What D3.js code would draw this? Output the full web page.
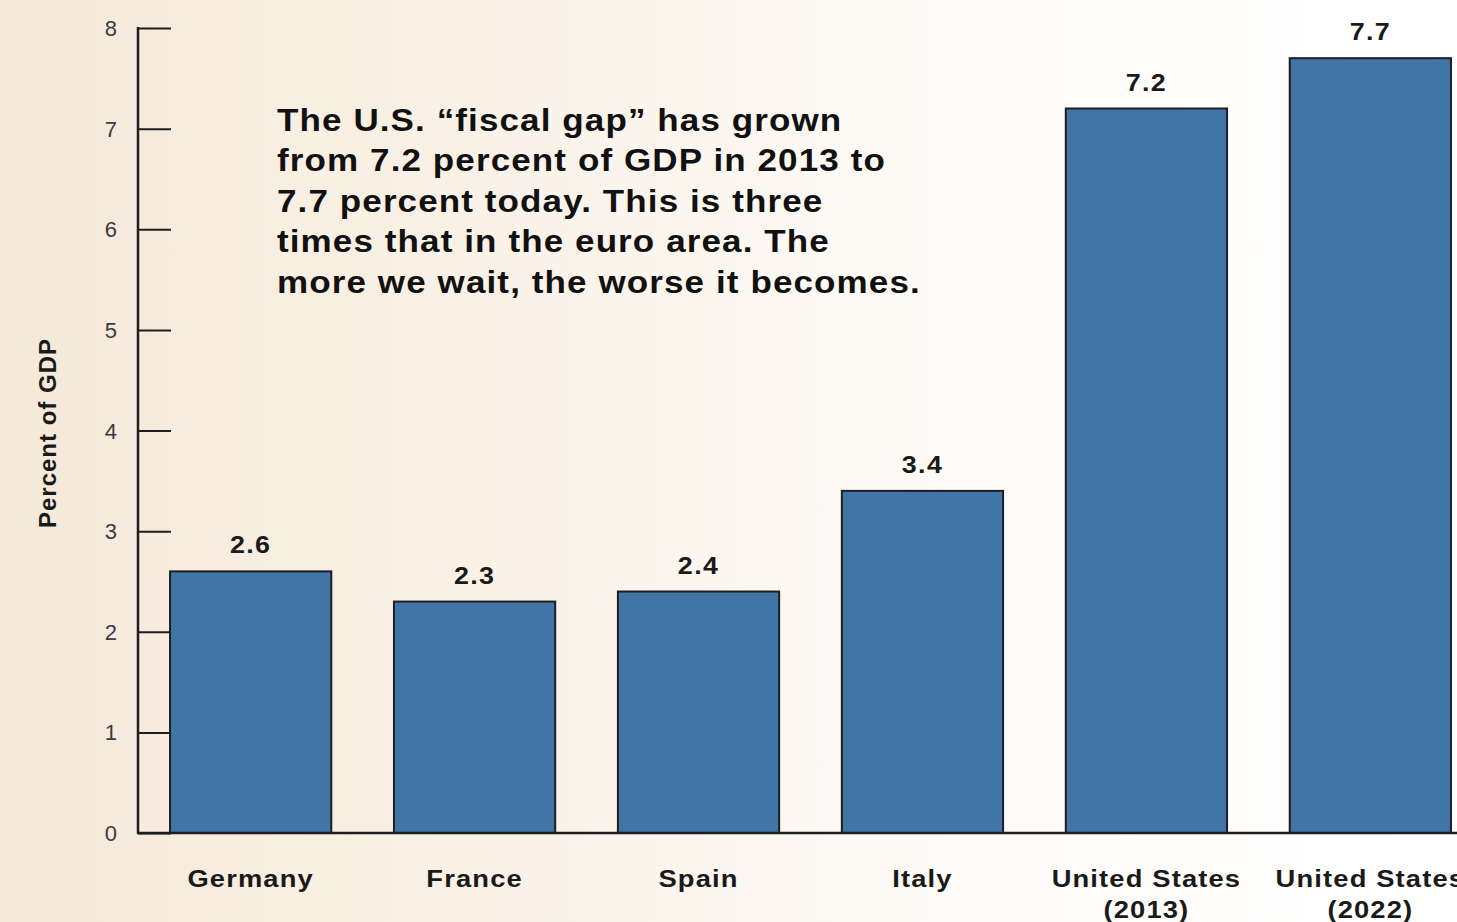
<!DOCTYPE html>
<html>
<head>
<meta charset="utf-8">
<script src="https://cdn.jsdelivr.net/npm/d3@7"></script>
<style>
  html, body { margin: 0; padding: 0; overflow: hidden; }
  svg { display: block; font-family: "Liberation Sans", Arial, sans-serif; }
</style>
</head>
<body>
<svg id="chart" width="1457" height="922"></svg>
<script>
const categories = ["Germany", "France", "Spain", "Italy", "United States|(2013)", "United States|(2022)"];
const values = [2.6, 2.3, 2.4, 3.4, 7.2, 7.7];
const yTicks = [0, 1, 2, 3, 4, 5, 6, 7, 8];
const noteLines = [
    "The U.S. \u201cfiscal gap\u201d has grown",
    "from 7.2 percent of GDP in 2013 to",
    "7.7 percent today. This is three",
    "times that in the euro area. The",
    "more we wait, the worse it becomes."
];

const svg = d3.select("#chart");
const width = +svg.attr("width");
const height = +svg.attr("height");

// background gradient
const defs = svg.append("defs");
const grad = defs.append("linearGradient").attr("id", "bg").attr("x1", "0").attr("x2", "1").attr("y1", "0").attr("y2", "0");
grad.append("stop").attr("offset", "0%").attr("stop-color", "#f5e9d8");
grad.append("stop").attr("offset", "35%").attr("stop-color", "#faf2e8");
grad.append("stop").attr("offset", "70%").attr("stop-color", "#fefcfa");
grad.append("stop").attr("offset", "100%").attr("stop-color", "#ffffff");
svg.append("rect").attr("width", width).attr("height", height).attr("fill", "url(#bg)");

const axisX = 138;
const y0 = 833;
const yTop = 28;
const stretch = 1.12; // the source type looks horizontally widened

const yScale = d3.scaleLinear().domain([0, 8]).range([y0, yTop]);

const xScale = d3.scaleBand()
    .domain(categories)
    .range([axisX, 1483])
    .paddingInner(0.28)
    .paddingOuter(0.143);

// bars
svg.selectAll(".bar")
    .data(values)
    .enter()
    .append("rect")
    .attr("class", "bar")
    .attr("x", (d, i) => xScale(categories[i]))
    .attr("y", d => yScale(d))
    .attr("width", xScale.bandwidth())
    .attr("height", d => y0 - yScale(d))
    .attr("fill", "#4174a7")
    .attr("stroke", "#1e1e1e")
    .attr("stroke-width", 2);

// value labels
svg.selectAll(".val")
    .data(values)
    .enter()
    .append("text")
    .attr("class", "val")
    .attr("transform", (d, i) => `translate(${xScale(categories[i]) + xScale.bandwidth() / 2},${yScale(d) - 18}) scale(${stretch},1)`)
    .attr("text-anchor", "middle")
    .attr("fill", "#1a1a1a")
    .style("font-size", "24px")
    .style("font-weight", "bold")
    .style("letter-spacing", "1.2px")
    .text(d => d.toFixed(1));

// y axis with inward ticks
const yAxis = d3.axisRight(yScale).tickValues(yTicks).tickSize(33).tickFormat("");
const yg = svg.append("g").attr("transform", `translate(${axisX},0)`).call(yAxis);
yg.select(".domain").remove();
yg.selectAll(".tick line").attr("stroke", "#1e1e1e").attr("stroke-width", 2);

svg.append("line")
    .attr("x1", axisX).attr("x2", axisX)
    .attr("y1", yTop - 1).attr("y2", y0 + 1)
    .attr("stroke", "#1e1e1e").attr("stroke-width", 2.5);

svg.append("line")
    .attr("x1", axisX - 1).attr("x2", width)
    .attr("y1", y0).attr("y2", y0)
    .attr("stroke", "#1e1e1e").attr("stroke-width", 2.5);

// tick labels
svg.selectAll(".ytl")
    .data(yTicks)
    .enter()
    .append("text")
    .attr("class", "ytl")
    .attr("x", 117)
    .attr("y", d => yScale(d) + 8)
    .attr("text-anchor", "end")
    .attr("fill", "#3a3a4a")
    .style("font-size", "22px")
    .text(d => d);

// y axis title
svg.append("text")
    .attr("transform", "translate(56,433) rotate(-90)")
    .attr("text-anchor", "middle")
    .attr("fill", "#1a1a1a")
    .style("font-size", "24px")
    .style("font-weight", "bold")
    .style("letter-spacing", "1px")
    .text("Percent of GDP");

// category labels
const catG = svg.selectAll(".cat")
    .data(categories)
    .enter()
    .append("text")
    .attr("class", "cat")
    .attr("transform", d => `translate(${xScale(d) + xScale.bandwidth() / 2},887) scale(1.14,1)`)
    .attr("text-anchor", "middle")
    .attr("fill", "#1a1a1a")
    .style("font-size", "24px")
    .style("font-weight", "bold")
    .style("letter-spacing", "1px");

catG.each(function(d) {
    const parts = d.split("|");
    const t = d3.select(this);
    parts.forEach((p, i) => {
        t.append("tspan")
            .attr("x", 0)
            .attr("dy", i === 0 ? 0 : 31)
            .text(p);
    });
});

// annotation
svg.append("text")
    .attr("transform", `translate(277,131) scale(1.095,1)`)
    .attr("fill", "#111")
    .style("font-size", "32px")
    .style("font-weight", "bold")
    .style("letter-spacing", "1px")
    .selectAll("tspan")
    .data(noteLines)
    .enter()
    .append("tspan")
    .attr("x", 0)
    .attr("dy", (d, i) => i === 0 ? 0 : 40.5)
    .text(d => d);
</script>
</body>
</html>
